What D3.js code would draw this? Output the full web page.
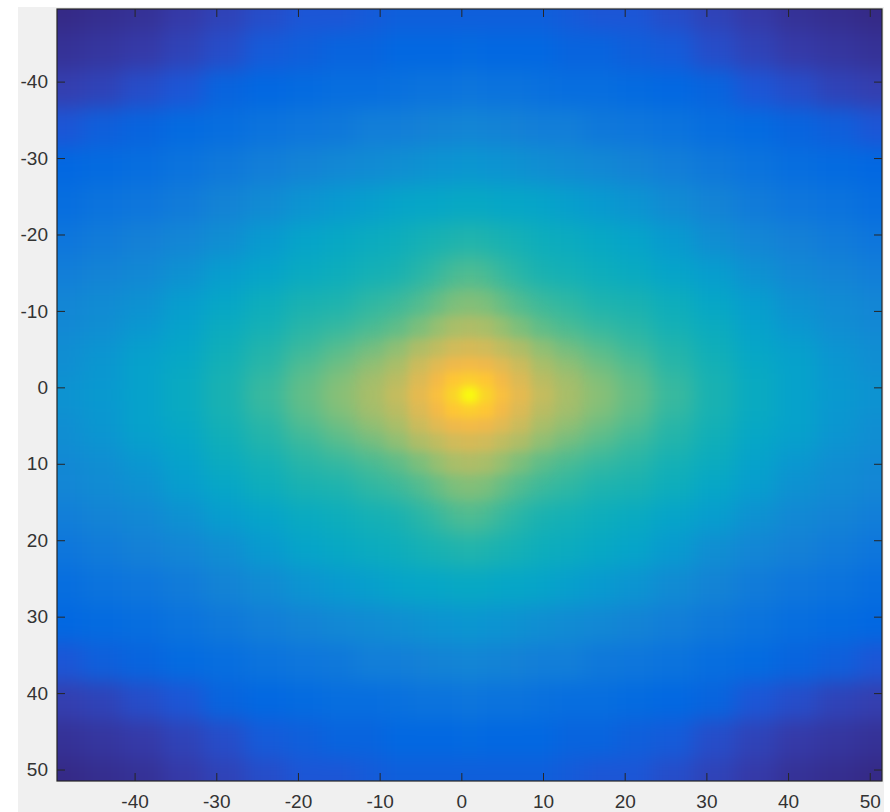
<!DOCTYPE html>
<html lang="en">
<head>
<meta charset="UTF-8">
<title>Heat map</title>
<script src="https://cdn.jsdelivr.net/npm/d3@7"></script>
<style>
  body { margin: 0; background: #fff; }
  svg { display: block; }
  text { font-family: "Liberation Sans", Arial, Helvetica, sans-serif; }
</style>
</head>
<body>
<svg id="chart" width="890" height="812"></svg>
<script>
// sample positions (column / row centres of the read-off grid)
const xs = [-49, -44, -39, -34, -29, -24, -19, -15, -11, -8, -5, -3, -1, 1, 3, 5, 7, 10, 13, 17, 21, 26, 31, 36, 41, 46, 51];
const ys = [-49, -44, -39, -34, -29, -24, -19, -15, -11, -8, -5, -3, -1, 1, 3, 5, 7, 10, 13, 17, 21, 26, 31, 36, 41, 46, 51];

// values (one row per ys entry, top to bottom)
const values = [
  [0.02,0.03,0.04,0.06,0.08,0.10,0.12,0.12,0.13,0.14,0.14,0.14,0.14,0.14,0.14,0.14,0.14,0.14,0.13,0.12,0.12,0.10,0.08,0.06,0.04,0.03,0.02],
  [0.04,0.05,0.06,0.08,0.10,0.13,0.14,0.15,0.15,0.16,0.16,0.16,0.16,0.17,0.16,0.16,0.16,0.16,0.15,0.15,0.14,0.13,0.10,0.08,0.06,0.05,0.04],
  [0.07,0.08,0.10,0.12,0.15,0.16,0.17,0.18,0.18,0.19,0.20,0.20,0.20,0.21,0.20,0.20,0.20,0.19,0.18,0.18,0.17,0.16,0.15,0.12,0.10,0.08,0.07],
  [0.12,0.14,0.15,0.17,0.18,0.20,0.21,0.22,0.24,0.24,0.25,0.26,0.26,0.27,0.26,0.26,0.25,0.24,0.24,0.22,0.21,0.20,0.18,0.17,0.15,0.14,0.12],
  [0.16,0.17,0.18,0.20,0.22,0.24,0.26,0.28,0.29,0.30,0.31,0.32,0.32,0.33,0.32,0.32,0.31,0.30,0.29,0.28,0.26,0.24,0.22,0.20,0.18,0.17,0.16],
  [0.18,0.20,0.21,0.23,0.26,0.29,0.32,0.34,0.36,0.38,0.39,0.39,0.40,0.40,0.40,0.39,0.39,0.38,0.36,0.34,0.32,0.29,0.26,0.23,0.21,0.20,0.18],
  [0.21,0.23,0.25,0.27,0.30,0.34,0.38,0.40,0.42,0.43,0.45,0.46,0.47,0.48,0.47,0.46,0.45,0.43,0.42,0.40,0.38,0.34,0.30,0.27,0.25,0.23,0.21],
  [0.24,0.26,0.28,0.31,0.35,0.38,0.41,0.43,0.45,0.46,0.49,0.51,0.54,0.55,0.54,0.51,0.49,0.46,0.45,0.43,0.41,0.38,0.35,0.31,0.28,0.26,0.24],
  [0.27,0.29,0.31,0.35,0.39,0.43,0.46,0.47,0.50,0.52,0.55,0.58,0.61,0.62,0.61,0.58,0.55,0.52,0.50,0.47,0.46,0.43,0.39,0.35,0.31,0.29,0.27],
  [0.28,0.30,0.33,0.37,0.42,0.45,0.49,0.51,0.54,0.57,0.61,0.65,0.68,0.69,0.68,0.65,0.61,0.57,0.54,0.51,0.49,0.45,0.42,0.37,0.33,0.30,0.28],
  [0.30,0.32,0.36,0.39,0.44,0.48,0.52,0.56,0.60,0.64,0.69,0.72,0.75,0.76,0.75,0.72,0.69,0.64,0.60,0.56,0.52,0.48,0.44,0.39,0.36,0.32,0.30],
  [0.30,0.33,0.37,0.40,0.45,0.49,0.55,0.59,0.64,0.68,0.74,0.78,0.81,0.82,0.81,0.78,0.74,0.68,0.64,0.59,0.55,0.49,0.45,0.40,0.37,0.33,0.30],
  [0.31,0.33,0.37,0.41,0.46,0.51,0.57,0.62,0.67,0.71,0.77,0.82,0.87,0.89,0.87,0.82,0.77,0.71,0.67,0.62,0.57,0.51,0.46,0.41,0.37,0.33,0.31],
  [0.32,0.34,0.37,0.41,0.46,0.52,0.58,0.63,0.68,0.73,0.79,0.84,0.91,1.00,0.91,0.84,0.79,0.73,0.68,0.63,0.58,0.52,0.46,0.41,0.37,0.34,0.32],
  [0.31,0.33,0.37,0.41,0.46,0.51,0.57,0.62,0.67,0.71,0.77,0.82,0.87,0.89,0.87,0.82,0.77,0.71,0.67,0.62,0.57,0.51,0.46,0.41,0.37,0.33,0.31],
  [0.30,0.33,0.37,0.40,0.45,0.49,0.55,0.59,0.64,0.68,0.74,0.78,0.81,0.82,0.81,0.78,0.74,0.68,0.64,0.59,0.55,0.49,0.45,0.40,0.37,0.33,0.30],
  [0.30,0.32,0.36,0.39,0.44,0.48,0.52,0.56,0.60,0.64,0.69,0.72,0.75,0.76,0.75,0.72,0.69,0.64,0.60,0.56,0.52,0.48,0.44,0.39,0.36,0.32,0.30],
  [0.28,0.30,0.33,0.37,0.42,0.45,0.49,0.51,0.54,0.57,0.61,0.65,0.68,0.69,0.68,0.65,0.61,0.57,0.54,0.51,0.49,0.45,0.42,0.37,0.33,0.30,0.28],
  [0.27,0.29,0.31,0.35,0.39,0.43,0.46,0.47,0.50,0.52,0.55,0.58,0.61,0.62,0.61,0.58,0.55,0.52,0.50,0.47,0.46,0.43,0.39,0.35,0.31,0.29,0.27],
  [0.24,0.26,0.28,0.31,0.35,0.38,0.41,0.43,0.45,0.46,0.49,0.51,0.54,0.55,0.54,0.51,0.49,0.46,0.45,0.43,0.41,0.38,0.35,0.31,0.28,0.26,0.24],
  [0.21,0.23,0.25,0.27,0.30,0.34,0.38,0.40,0.42,0.43,0.45,0.46,0.47,0.48,0.47,0.46,0.45,0.43,0.42,0.40,0.38,0.34,0.30,0.27,0.25,0.23,0.21],
  [0.18,0.20,0.21,0.23,0.26,0.29,0.32,0.34,0.36,0.38,0.39,0.39,0.40,0.40,0.40,0.39,0.39,0.38,0.36,0.34,0.32,0.29,0.26,0.23,0.21,0.20,0.18],
  [0.16,0.17,0.18,0.20,0.22,0.24,0.26,0.28,0.29,0.30,0.31,0.32,0.32,0.33,0.32,0.32,0.31,0.30,0.29,0.28,0.26,0.24,0.22,0.20,0.18,0.17,0.16],
  [0.12,0.14,0.15,0.17,0.18,0.20,0.21,0.22,0.24,0.24,0.25,0.26,0.26,0.27,0.26,0.26,0.25,0.24,0.24,0.22,0.21,0.20,0.18,0.17,0.15,0.14,0.12],
  [0.07,0.08,0.10,0.12,0.15,0.16,0.17,0.18,0.18,0.19,0.20,0.20,0.20,0.21,0.20,0.20,0.20,0.19,0.18,0.18,0.17,0.16,0.15,0.12,0.10,0.08,0.07],
  [0.04,0.05,0.06,0.08,0.10,0.13,0.14,0.15,0.15,0.16,0.16,0.16,0.16,0.17,0.16,0.16,0.16,0.16,0.15,0.15,0.14,0.13,0.10,0.08,0.06,0.05,0.04],
  [0.02,0.03,0.04,0.06,0.08,0.10,0.12,0.12,0.13,0.14,0.14,0.14,0.14,0.14,0.14,0.14,0.14,0.14,0.13,0.12,0.12,0.10,0.08,0.06,0.04,0.03,0.02]
];

const xTicks = [-40, -30, -20, -10, 0, 10, 20, 30, 40, 50];
const yTicks = [-40, -30, -20, -10, 0, 10, 20, 30, 40, 50];

// parula colour map stops
const parula = ["#352a87", "#353dad", "#2053d4", "#0268e1", "#0d75dc", "#1481d6", "#108ed2", "#079ccf",
  "#06a7c6", "#0faeb9", "#25b5a9", "#42bb98", "#65be86", "#87bf77", "#a5be6b", "#c0bc60",
  "#d9ba56", "#f1b94a", "#ffc337", "#fad32a", "#f5e41d", "#f9fb0e"];

const width = 890, height = 812;
const plot = { left: 57, right: 882, top: 9, bottom: 781 };
const bleed = 40;

const svg = d3.select("#chart");

// grey figure background
svg.append("rect")
  .attr("x", 18).attr("y", 7)
  .attr("width", 866).attr("height", height - 7)
  .attr("fill", "#f0f0f0");

const x = d3.scaleLinear().domain([-49.5, 51.5]).range([plot.left, plot.right]);
const y = d3.scaleLinear().domain([-49.5, 51.5]).range([plot.top, plot.bottom]);

const norm = d3.scaleLinear().domain(d3.extent(values.flat())).range([0, 1]);
const colour = d3.scaleLinear()
  .domain(parula.map((_, i) => i / (parula.length - 1)))
  .range(parula)
  .interpolate(d3.interpolateRgb)
  .clamp(true);

// cell borders half way between neighbouring samples
function cellEdges(c, lo, hi) {
  return c.map((v, i) => [
    i === 0 ? lo : (c[i - 1] + v) / 2,
    i === c.length - 1 ? hi : (v + c[i + 1]) / 2
  ]);
}
const xe = cellEdges(xs, -49.5, 51.5);
const ye = cellEdges(ys, -49.5, 51.5);

const cells = values.flatMap((row, j) => row.map((v, i) => ({ i, j, v })));
const peak = cells.reduce((a, b) => (b.v > a.v ? b : a));
const px = x(xs[peak.i]), py = y(ys[peak.j]);

const defs = svg.append("defs");
defs.append("clipPath").attr("id", "plot-clip")
  .append("rect")
  .attr("x", plot.left).attr("y", plot.top)
  .attr("width", plot.right - plot.left)
  .attr("height", plot.bottom - plot.top);

function blurFilter(id, sd) {
  defs.append("filter").attr("id", id)
    .attr("filterUnits", "userSpaceOnUse")
    .attr("x", 0).attr("y", 0).attr("width", width).attr("height", height)
    .attr("color-interpolation-filters", "sRGB")
    .append("feGaussianBlur").attr("stdDeviation", sd);
}
blurFilter("blur-wide", 10);
blurFilter("blur-narrow", 4);

// the sharper centre layer fades out towards the wider blurred one
const fade = defs.append("radialGradient").attr("id", "centre-fade")
  .attr("gradientUnits", "userSpaceOnUse")
  .attr("cx", px).attr("cy", py).attr("r", 120);
fade.append("stop").attr("offset", 0.4).attr("stop-color", "#fff");
fade.append("stop").attr("offset", 1).attr("stop-color", "#000");
defs.append("mask").attr("id", "centre-mask")
  .attr("maskUnits", "userSpaceOnUse")
  .attr("x", 0).attr("y", 0).attr("width", width).attr("height", height)
  .append("rect").attr("width", width).attr("height", height)
  .attr("fill", "url(#centre-fade)");

function drawCells(g, data) {
  const last = xs.length - 1;
  g.selectAll("rect")
    .data(data)
    .join("rect")
    .attr("x", d => x(xe[d.i][0]) - (d.i === 0 ? bleed : 0))
    .attr("y", d => y(ye[d.j][0]) - (d.j === 0 ? bleed : 0))
    .attr("width", d => x(xe[d.i][1]) - x(xe[d.i][0]) + (d.i === 0 || d.i === last ? bleed : 0) + 0.5)
    .attr("height", d => y(ye[d.j][1]) - y(ye[d.j][0]) + (d.j === 0 || d.j === last ? bleed : 0) + 0.5)
    .attr("fill", d => colour(norm(d.v)))
    .attr("shape-rendering", "crispEdges");
}

const image = svg.append("g").attr("clip-path", "url(#plot-clip)");
drawCells(image.append("g").attr("filter", "url(#blur-wide)"), cells);
drawCells(
  image.append("g").attr("mask", "url(#centre-mask)")
    .append("g").attr("filter", "url(#blur-narrow)"),
  cells.filter(d => Math.abs(d.i - peak.i) <= 6 && Math.abs(d.j - peak.j) <= 6)
);

// axes, ticks pointing inwards on all four sides
const fmt = d => String(d);
const axisColour = "#262626";

const gBottom = svg.append("g")
  .attr("transform", `translate(0,${plot.bottom})`)
  .call(d3.axisBottom(x).tickValues(xTicks).tickSize(-8).tickPadding(14).tickFormat(fmt));
const gTop = svg.append("g")
  .attr("transform", `translate(0,${plot.top})`)
  .call(d3.axisTop(x).tickValues(xTicks).tickSize(-8).tickFormat(""));
const gLeft = svg.append("g")
  .attr("transform", `translate(${plot.left},0)`)
  .call(d3.axisLeft(y).tickValues(yTicks).tickSize(-8).tickPadding(9).tickFormat(fmt));
const gRight = svg.append("g")
  .attr("transform", `translate(${plot.right},0)`)
  .call(d3.axisRight(y).tickValues(yTicks).tickSize(-8).tickFormat(""));

[gBottom, gTop, gLeft, gRight].forEach(g => {
  g.select(".domain").remove();
  g.selectAll(".tick line").attr("stroke", axisColour).attr("stroke-width", 1);
  g.selectAll(".tick text")
    .attr("fill", "#333")
    .style("font-size", "19px");
});

svg.append("rect")
  .attr("x", plot.left).attr("y", plot.top)
  .attr("width", plot.right - plot.left)
  .attr("height", plot.bottom - plot.top)
  .attr("fill", "none")
  .attr("stroke", axisColour)
  .attr("stroke-width", 1.2);
</script>
</body>
</html>
